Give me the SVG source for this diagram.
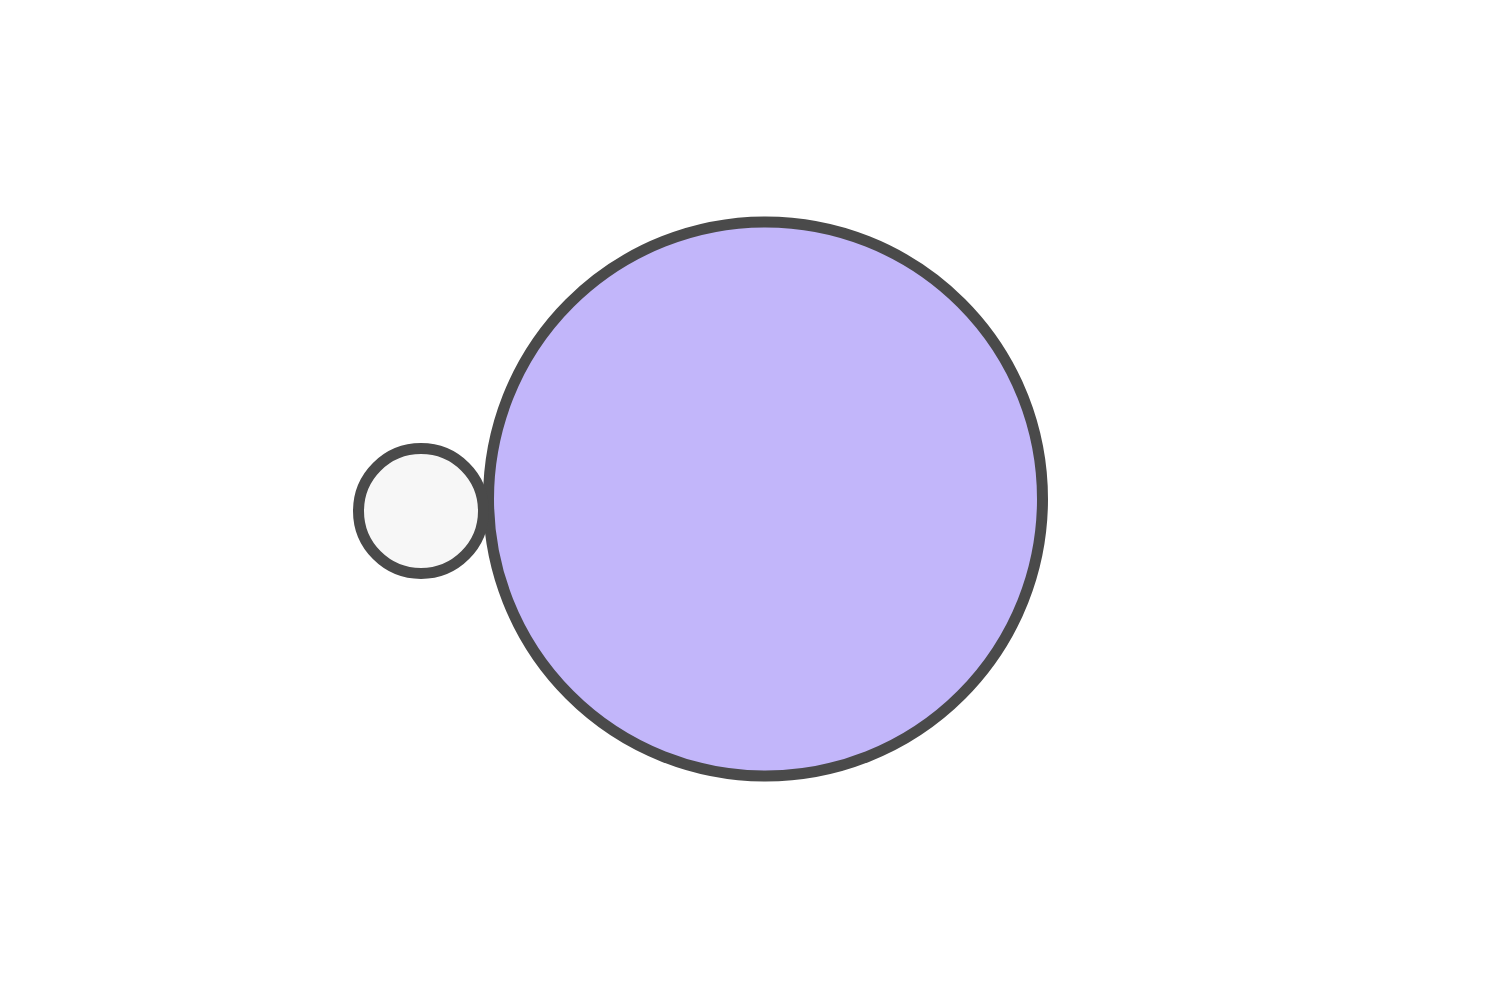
<svg xmlns="http://www.w3.org/2000/svg" width="1500" height="1000" viewBox="0 0 1500 1000">
<style>
.n{stroke:#4a4a4a;stroke-width:11}
</style>
<rect width="1500" height="1000" fill="#ffffff"/>
<g id="connectors"></g>
<g id="node-big"><circle class="n" cx="765.5" cy="499" r="277" fill="#c2b6fa"/></g>
<g id="node-small"><circle class="n" cx="421" cy="511" r="62.5" fill="#f7f7f7"/></g>
</svg>
